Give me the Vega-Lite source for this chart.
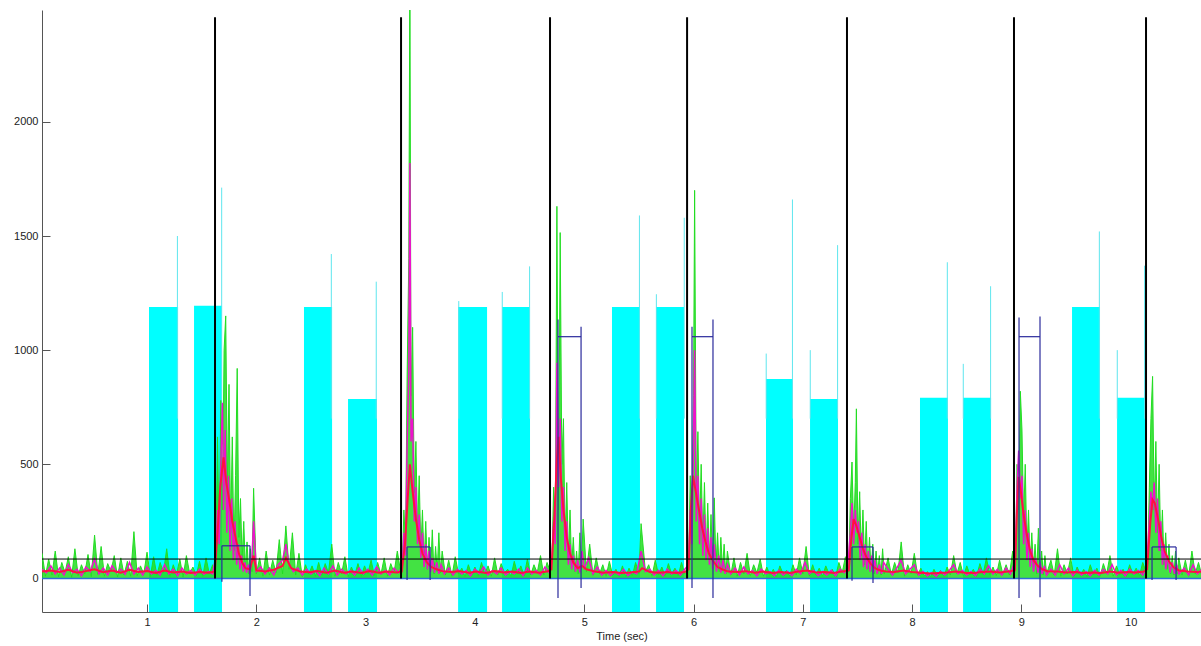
{
  "$schema": "https://vega.github.io/schema/vega-lite/v6.json",
  "autosize": "none",
  "width": 1159,
  "height": 602,
  "padding": {"left": 42, "top": 10, "right": 0, "bottom": 34},
  "background": "white",
  "config": {
    "view": {"stroke": null},
    "axis": {"grid": false, "domainColor": "#555", "tickColor": "#555", "labelColor": "#222", "labelFont": "Liberation Sans", "labelFontSize": 11, "titleFont": "Liberation Sans", "titleFontSize": 11, "titleFontWeight": "normal", "titleColor": "#222", "tickSize": -8, "labelPadding": 12, "format": "d"}
  },
  "datasets": {
    "blocks": [
      {"t0": 1.018, "t1": 1.284, "top": 1189},
      {"t0": 1.430, "t1": 1.686, "top": 1194},
      {"t0": 2.436, "t1": 2.693, "top": 1189},
      {"t0": 2.839, "t1": 3.104, "top": 786},
      {"t0": 3.846, "t1": 4.111, "top": 1189},
      {"t0": 4.248, "t1": 4.504, "top": 1189},
      {"t0": 5.254, "t1": 5.510, "top": 1189},
      {"t0": 5.657, "t1": 5.913, "top": 1189},
      {"t0": 6.663, "t1": 6.910, "top": 874},
      {"t0": 7.066, "t1": 7.322, "top": 786},
      {"t0": 8.072, "t1": 8.328, "top": 791},
      {"t0": 8.466, "t1": 8.722, "top": 791},
      {"t0": 9.463, "t1": 9.719, "top": 1189},
      {"t0": 9.875, "t1": 10.131, "top": 791}
    ],
    "spikes": [
      {"t": 1.278, "v": 1500}, {"t": 1.683, "v": 1712}, {"t": 2.686, "v": 1421}, {"t": 3.097, "v": 1300},
      {"t": 3.852, "v": 1215}, {"t": 4.250, "v": 1255}, {"t": 4.500, "v": 1367}, {"t": 5.505, "v": 1590},
      {"t": 5.660, "v": 1245}, {"t": 5.915, "v": 1580}, {"t": 6.665, "v": 985}, {"t": 6.905, "v": 1660},
      {"t": 7.068, "v": 1000}, {"t": 7.318, "v": 1460}, {"t": 8.322, "v": 1385}, {"t": 8.468, "v": 940},
      {"t": 8.718, "v": 1280}, {"t": 9.713, "v": 1520}, {"t": 9.877, "v": 1000}, {"t": 10.127, "v": 1370}
    ],
    "onsets": [
      {"t": 1.622, "top": 2458}, {"t": 3.324, "top": 2458}, {"t": 4.687, "top": 2458}, {"t": 5.941, "top": 2458},
      {"t": 7.404, "top": 2458}, {"t": 8.932, "top": 2458}, {"t": 10.140, "top": 2458}
    ],
    "brackets": [
      {"t": 1.685, "t2": 1.685, "v": -15, "v2": 143}, {"t": 1.685, "t2": 1.942, "v": 143, "v2": 143}, {"t": 1.942, "t2": 1.942, "v": -77, "v2": 143},
      {"t": 3.379, "t2": 3.379, "v": -7, "v2": 138}, {"t": 3.379, "t2": 3.590, "v": 138, "v2": 138}, {"t": 3.590, "t2": 3.590, "v": -7, "v2": 138},
      {"t": 4.760, "t2": 4.760, "v": -86, "v2": 1134}, {"t": 4.760, "t2": 4.971, "v": 1059, "v2": 1059}, {"t": 4.971, "t2": 4.971, "v": -42, "v2": 1103},
      {"t": 5.986, "t2": 5.986, "v": -42, "v2": 1103}, {"t": 5.986, "t2": 6.178, "v": 1059, "v2": 1059}, {"t": 6.178, "t2": 6.178, "v": -86, "v2": 1134},
      {"t": 7.450, "t2": 7.450, "v": -10, "v2": 138}, {"t": 7.450, "t2": 7.642, "v": 138, "v2": 138}, {"t": 7.642, "t2": 7.642, "v": -20, "v2": 138},
      {"t": 8.978, "t2": 8.978, "v": -86, "v2": 1143}, {"t": 8.978, "t2": 9.170, "v": 1059, "v2": 1059}, {"t": 9.170, "t2": 9.170, "v": -82, "v2": 1147},
      {"t": 10.195, "t2": 10.195, "v": -7, "v2": 138}, {"t": 10.195, "t2": 10.415, "v": 138, "v2": 138}, {"t": 10.415, "t2": 10.415, "v": -7, "v2": 138}
    ],
    "green": [
      {"t":0.04,"g":110},{"t":0.07,"g":10},{"t":0.10,"g":85},{"t":0.13,"g":15},{"t":0.16,"g":120},{"t":0.19,"g":8},{"t":0.22,"g":70},{"t":0.25,"g":25},{"t":0.28,"g":95},{"t":0.31,"g":5},
      {"t":0.34,"g":130},{"t":0.37,"g":12},{"t":0.40,"g":60},{"t":0.43,"g":20},{"t":0.46,"g":105},{"t":0.49,"g":8},{"t":0.52,"g":190},{"t":0.55,"g":18},{"t":0.58,"g":140},{"t":0.61,"g":10},
      {"t":0.64,"g":65},{"t":0.67,"g":30},{"t":0.70,"g":100},{"t":0.73,"g":6},{"t":0.76,"g":90},{"t":0.79,"g":15},{"t":0.82,"g":75},{"t":0.85,"g":10},{"t":0.88,"g":205},{"t":0.91,"g":12},
      {"t":0.94,"g":55},{"t":0.97,"g":20},{"t":1.00,"g":115},{"t":1.03,"g":8},{"t":1.06,"g":95},{"t":1.09,"g":14},{"t":1.12,"g":70},{"t":1.15,"g":25},{"t":1.18,"g":130},{"t":1.21,"g":10},
      {"t":1.24,"g":60},{"t":1.27,"g":18},{"t":1.30,"g":85},{"t":1.33,"g":6},{"t":1.36,"g":100},{"t":1.39,"g":22},{"t":1.42,"g":50},{"t":1.45,"g":12},{"t":1.48,"g":75},{"t":1.51,"g":9},
      {"t":1.54,"g":90},{"t":1.57,"g":20},{"t":1.60,"g":60},
      {"t":1.615,"g":15},{"t":1.63,"g":80},{"t":1.645,"g":620},{"t":1.66,"g":150},{"t":1.675,"g":780},{"t":1.69,"g":300},{"t":1.705,"g":1000},{"t":1.72,"g":1150},{"t":1.735,"g":400},{"t":1.75,"g":850},
      {"t":1.765,"g":200},{"t":1.78,"g":620},{"t":1.795,"g":120},{"t":1.81,"g":450},{"t":1.825,"g":920},{"t":1.84,"g":180},{"t":1.855,"g":350},{"t":1.87,"g":80},{"t":1.885,"g":250},{"t":1.90,"g":40},
      {"t":1.915,"g":160},{"t":1.93,"g":20},{"t":1.945,"g":130},{"t":1.96,"g":30},{"t":1.975,"g":395},
      {"t":2.00,"g":20},{"t":2.03,"g":90},{"t":2.06,"g":10},{"t":2.09,"g":120},{"t":2.12,"g":15},{"t":2.15,"g":80},{"t":2.18,"g":25},{"t":2.21,"g":170},{"t":2.24,"g":20},{"t":2.27,"g":230},
      {"t":2.30,"g":40},{"t":2.33,"g":200},{"t":2.36,"g":15},{"t":2.39,"g":110},{"t":2.42,"g":8},{"t":2.45,"g":60},{"t":2.48,"g":20},{"t":2.51,"g":55},{"t":2.54,"g":10},{"t":2.57,"g":70},
      {"t":2.60,"g":15},{"t":2.63,"g":65},{"t":2.66,"g":25},{"t":2.69,"g":150},{"t":2.72,"g":10},{"t":2.75,"g":70},{"t":2.78,"g":20},{"t":2.81,"g":95},{"t":2.84,"g":8},{"t":2.87,"g":50},
      {"t":2.90,"g":15},{"t":2.93,"g":65},{"t":2.96,"g":10},{"t":2.99,"g":55},{"t":3.02,"g":20},{"t":3.05,"g":80},{"t":3.08,"g":12},{"t":3.11,"g":70},{"t":3.14,"g":18},{"t":3.17,"g":90},
      {"t":3.20,"g":10},{"t":3.23,"g":65},{"t":3.26,"g":25},{"t":3.29,"g":120},{"t":3.32,"g":30},
      {"t":3.335,"g":40},{"t":3.35,"g":300},{"t":3.365,"g":150},{"t":3.38,"g":900},{"t":3.395,"g":1400},{"t":3.405,"g":2700},{"t":3.415,"g":800},{"t":3.43,"g":1100},{"t":3.445,"g":375},{"t":3.46,"g":600},
      {"t":3.475,"g":200},{"t":3.49,"g":450},{"t":3.505,"g":120},{"t":3.52,"g":300},{"t":3.535,"g":60},{"t":3.55,"g":250},{"t":3.565,"g":40},{"t":3.58,"g":180},{"t":3.595,"g":30},{"t":3.61,"g":213},
      {"t":3.625,"g":20},{"t":3.64,"g":140},{"t":3.655,"g":30},{"t":3.67,"g":200},{"t":3.685,"g":25},{"t":3.70,"g":120},
      {"t":3.73,"g":15},{"t":3.76,"g":80},{"t":3.79,"g":10},{"t":3.82,"g":95},{"t":3.85,"g":20},{"t":3.88,"g":45},{"t":3.91,"g":8},{"t":3.94,"g":60},{"t":3.97,"g":15},{"t":4.00,"g":50},
      {"t":4.03,"g":10},{"t":4.06,"g":70},{"t":4.09,"g":20},{"t":4.12,"g":55},{"t":4.15,"g":10},{"t":4.18,"g":90},{"t":4.21,"g":15},{"t":4.24,"g":65},{"t":4.27,"g":25},{"t":4.30,"g":40},
      {"t":4.33,"g":10},{"t":4.36,"g":75},{"t":4.39,"g":20},{"t":4.42,"g":55},{"t":4.45,"g":12},{"t":4.48,"g":85},{"t":4.51,"g":15},{"t":4.54,"g":60},{"t":4.57,"g":25},{"t":4.60,"g":100},
      {"t":4.63,"g":15},{"t":4.66,"g":70},{"t":4.69,"g":30},
      {"t":4.705,"g":80},{"t":4.72,"g":400},{"t":4.735,"g":200},{"t":4.75,"g":1630},{"t":4.765,"g":300},{"t":4.78,"g":1515},{"t":4.795,"g":500},{"t":4.81,"g":700},{"t":4.825,"g":150},{"t":4.84,"g":420},
      {"t":4.855,"g":80},{"t":4.87,"g":300},{"t":4.885,"g":50},{"t":4.90,"g":180},{"t":4.915,"g":30},{"t":4.93,"g":120},{"t":4.945,"g":20},{"t":4.96,"g":200},{"t":4.975,"g":40},{"t":4.99,"g":260},
      {"t":5.02,"g":30},{"t":5.05,"g":150},{"t":5.08,"g":15},{"t":5.11,"g":90},{"t":5.14,"g":20},{"t":5.17,"g":60},{"t":5.20,"g":10},{"t":5.23,"g":75},{"t":5.26,"g":15},{"t":5.29,"g":40},
      {"t":5.32,"g":10},{"t":5.35,"g":55},{"t":5.38,"g":8},{"t":5.41,"g":45},{"t":5.44,"g":12},{"t":5.47,"g":70},{"t":5.50,"g":20},{"t":5.52,"g":240},{"t":5.56,"g":30},{"t":5.59,"g":60},
      {"t":5.62,"g":10},{"t":5.65,"g":80},{"t":5.68,"g":15},{"t":5.71,"g":50},{"t":5.74,"g":10},{"t":5.77,"g":65},{"t":5.80,"g":20},{"t":5.83,"g":45},{"t":5.86,"g":12},{"t":5.89,"g":70},
      {"t":5.92,"g":20},
      {"t":5.955,"g":40},{"t":5.97,"g":450},{"t":5.985,"g":200},{"t":6.0,"g":800},{"t":6.01,"g":1700},{"t":6.025,"g":350},{"t":6.04,"g":643},{"t":6.055,"g":200},{"t":6.07,"g":500},{"t":6.085,"g":150},
      {"t":6.10,"g":420},{"t":6.115,"g":100},{"t":6.13,"g":330},{"t":6.145,"g":80},{"t":6.16,"g":280},{"t":6.175,"g":60},{"t":6.19,"g":353},{"t":6.205,"g":50},{"t":6.22,"g":200},{"t":6.235,"g":30},
      {"t":6.25,"g":180},{"t":6.265,"g":40},{"t":6.28,"g":150},{"t":6.295,"g":20},{"t":6.31,"g":120},
      {"t":6.34,"g":15},{"t":6.37,"g":90},{"t":6.40,"g":10},{"t":6.43,"g":70},{"t":6.46,"g":20},{"t":6.49,"g":110},{"t":6.52,"g":12},{"t":6.55,"g":60},{"t":6.58,"g":25},{"t":6.61,"g":85},
      {"t":6.64,"g":10},{"t":6.67,"g":50},{"t":6.70,"g":15},{"t":6.73,"g":40},{"t":6.76,"g":8},{"t":6.79,"g":55},{"t":6.82,"g":20},{"t":6.85,"g":35},{"t":6.88,"g":10},{"t":6.91,"g":60},
      {"t":6.94,"g":15},{"t":6.97,"g":90},{"t":7.00,"g":20},{"t":7.03,"g":140},{"t":7.06,"g":10},{"t":7.09,"g":60},{"t":7.12,"g":15},{"t":7.15,"g":45},{"t":7.18,"g":10},{"t":7.21,"g":55},
      {"t":7.24,"g":20},{"t":7.27,"g":40},{"t":7.30,"g":8},{"t":7.33,"g":70},{"t":7.36,"g":25},{"t":7.39,"g":95},
      {"t":7.42,"g":30},{"t":7.435,"g":350},{"t":7.45,"g":510},{"t":7.465,"g":200},{"t":7.48,"g":420},{"t":7.49,"g":743},{"t":7.505,"g":150},{"t":7.52,"g":380},{"t":7.535,"g":100},{"t":7.55,"g":300},
      {"t":7.565,"g":60},{"t":7.58,"g":250},{"t":7.595,"g":40},{"t":7.61,"g":180},{"t":7.625,"g":30},{"t":7.64,"g":150},{"t":7.655,"g":20},{"t":7.67,"g":120},{"t":7.685,"g":30},{"t":7.70,"g":100},
      {"t":7.715,"g":15},{"t":7.73,"g":130},{"t":7.745,"g":20},
      {"t":7.78,"g":90},{"t":7.81,"g":15},{"t":7.84,"g":70},{"t":7.87,"g":25},{"t":7.90,"g":160},{"t":7.93,"g":10},{"t":7.96,"g":60},{"t":7.99,"g":20},{"t":8.02,"g":110},{"t":8.05,"g":15},
      {"t":8.08,"g":45},{"t":8.11,"g":10},{"t":8.14,"g":30},{"t":8.17,"g":8},{"t":8.20,"g":40},{"t":8.23,"g":12},{"t":8.26,"g":35},{"t":8.29,"g":8},{"t":8.32,"g":50},{"t":8.35,"g":15},
      {"t":8.38,"g":100},{"t":8.41,"g":20},{"t":8.44,"g":70},{"t":8.47,"g":10},{"t":8.50,"g":55},{"t":8.53,"g":15},{"t":8.56,"g":40},{"t":8.59,"g":10},{"t":8.62,"g":65},{"t":8.65,"g":20},
      {"t":8.68,"g":90},{"t":8.71,"g":15},{"t":8.74,"g":50},{"t":8.77,"g":12},{"t":8.80,"g":80},{"t":8.83,"g":20},{"t":8.86,"g":60},{"t":8.89,"g":15},{"t":8.92,"g":120},
      {"t":8.945,"g":40},{"t":8.96,"g":500},{"t":8.975,"g":300},{"t":8.99,"g":820},{"t":9.005,"g":650},{"t":9.02,"g":250},{"t":9.035,"g":500},{"t":9.05,"g":120},{"t":9.065,"g":300},{"t":9.08,"g":60},
      {"t":9.095,"g":200},{"t":9.11,"g":40},{"t":9.125,"g":150},{"t":9.14,"g":20},{"t":9.155,"g":220},{"t":9.17,"g":30},{"t":9.185,"g":120},{"t":9.20,"g":15},{"t":9.215,"g":100},{"t":9.23,"g":20},
      {"t":9.27,"g":80},{"t":9.30,"g":15},{"t":9.33,"g":130},{"t":9.36,"g":10},{"t":9.39,"g":60},{"t":9.42,"g":20},{"t":9.45,"g":90},{"t":9.48,"g":10},{"t":9.51,"g":50},{"t":9.54,"g":15},
      {"t":9.57,"g":40},{"t":9.60,"g":8},{"t":9.63,"g":60},{"t":9.66,"g":15},{"t":9.69,"g":45},{"t":9.72,"g":10},{"t":9.75,"g":65},{"t":9.78,"g":20},{"t":9.81,"g":100},{"t":9.84,"g":10},
      {"t":9.87,"g":55},{"t":9.90,"g":15},{"t":9.93,"g":40},{"t":9.96,"g":10},{"t":9.99,"g":60},{"t":10.02,"g":20},{"t":10.05,"g":45},{"t":10.08,"g":12},{"t":10.11,"g":70},{"t":10.14,"g":30},
      {"t":10.155,"g":60},{"t":10.17,"g":400},{"t":10.185,"g":700},{"t":10.20,"g":885},{"t":10.215,"g":300},{"t":10.23,"g":600},{"t":10.245,"g":200},{"t":10.26,"g":500},{"t":10.275,"g":120},{"t":10.29,"g":300},
      {"t":10.305,"g":60},{"t":10.32,"g":200},{"t":10.335,"g":40},{"t":10.35,"g":150},{"t":10.365,"g":20},{"t":10.38,"g":100},{"t":10.395,"g":15},{"t":10.41,"g":120},{"t":10.425,"g":20},{"t":10.44,"g":90},
      {"t":10.47,"g":15},{"t":10.50,"g":80},{"t":10.53,"g":10},{"t":10.56,"g":120},{"t":10.59,"g":20},{"t":10.62,"g":70},{"t":10.65,"g":15}
    ],
    "magenta": [
      {"t":0.04,"m":40},{"t":0.08,"m":25},{"t":0.12,"m":55},{"t":0.16,"m":20},{"t":0.20,"m":45},{"t":0.24,"m":15},{"t":0.28,"m":60},{"t":0.32,"m":25},{"t":0.36,"m":40},{"t":0.40,"m":12},
      {"t":0.44,"m":50},{"t":0.48,"m":30},{"t":0.52,"m":85},{"t":0.56,"m":20},{"t":0.60,"m":45},{"t":0.64,"m":15},{"t":0.68,"m":55},{"t":0.72,"m":25},{"t":0.76,"m":40},{"t":0.80,"m":18},
      {"t":0.84,"m":70},{"t":0.88,"m":20},{"t":0.92,"m":45},{"t":0.96,"m":15},{"t":1.00,"m":50},{"t":1.04,"m":20},{"t":1.08,"m":35},{"t":1.12,"m":15},{"t":1.16,"m":60},{"t":1.20,"m":20},
      {"t":1.24,"m":40},{"t":1.28,"m":12},{"t":1.32,"m":45},{"t":1.36,"m":20},{"t":1.40,"m":35},{"t":1.44,"m":15},{"t":1.48,"m":40},{"t":1.52,"m":18},{"t":1.56,"m":30},{"t":1.60,"m":20},
      {"t":1.63,"m":100},{"t":1.645,"m":300},{"t":1.66,"m":150},{"t":1.675,"m":500},{"t":1.69,"m":770},{"t":1.70,"m":300},{"t":1.715,"m":650},{"t":1.73,"m":200},{"t":1.745,"m":450},{"t":1.76,"m":120},
      {"t":1.775,"m":350},{"t":1.79,"m":80},{"t":1.805,"m":250},{"t":1.82,"m":60},{"t":1.835,"m":150},{"t":1.85,"m":40},{"t":1.865,"m":100},{"t":1.88,"m":30},{"t":1.895,"m":70},{"t":1.91,"m":25},
      {"t":1.925,"m":60},{"t":1.94,"m":20},{"t":1.96,"m":90},{"t":1.975,"m":250},
      {"t":2.00,"m":30},{"t":2.04,"m":50},{"t":2.08,"m":20},{"t":2.12,"m":45},{"t":2.16,"m":15},{"t":2.20,"m":60},{"t":2.24,"m":80},{"t":2.27,"m":150},{"t":2.30,"m":60},{"t":2.34,"m":30},
      {"t":2.38,"m":45},{"t":2.42,"m":15},{"t":2.46,"m":40},{"t":2.50,"m":20},{"t":2.54,"m":35},{"t":2.58,"m":12},{"t":2.62,"m":45},{"t":2.66,"m":20},{"t":2.70,"m":55},{"t":2.74,"m":15},
      {"t":2.78,"m":40},{"t":2.82,"m":20},{"t":2.86,"m":35},{"t":2.90,"m":15},{"t":2.94,"m":45},{"t":2.98,"m":20},{"t":3.02,"m":40},{"t":3.06,"m":15},{"t":3.10,"m":50},{"t":3.14,"m":20},
      {"t":3.18,"m":35},{"t":3.22,"m":15},{"t":3.26,"m":45},{"t":3.30,"m":25},
      {"t":3.335,"m":50},{"t":3.35,"m":200},{"t":3.365,"m":100},{"t":3.38,"m":600},{"t":3.395,"m":900},{"t":3.405,"m":1820},{"t":3.415,"m":600},{"t":3.43,"m":700},{"t":3.445,"m":250},{"t":3.46,"m":400},
      {"t":3.475,"m":150},{"t":3.49,"m":280},{"t":3.505,"m":90},{"t":3.52,"m":200},{"t":3.535,"m":50},{"t":3.55,"m":150},{"t":3.565,"m":40},{"t":3.58,"m":120},{"t":3.595,"m":30},{"t":3.61,"m":90},
      {"t":3.63,"m":25},{"t":3.65,"m":70},{"t":3.67,"m":20},{"t":3.69,"m":60},
      {"t":3.72,"m":20},{"t":3.76,"m":45},{"t":3.80,"m":15},{"t":3.84,"m":40},{"t":3.88,"m":20},{"t":3.92,"m":35},{"t":3.96,"m":12},{"t":4.00,"m":40},{"t":4.04,"m":20},{"t":4.08,"m":50},
      {"t":4.12,"m":15},{"t":4.16,"m":35},{"t":4.20,"m":20},{"t":4.24,"m":45},{"t":4.28,"m":15},{"t":4.32,"m":30},{"t":4.36,"m":20},{"t":4.40,"m":40},{"t":4.44,"m":12},{"t":4.48,"m":45},
      {"t":4.52,"m":20},{"t":4.56,"m":35},{"t":4.60,"m":15},{"t":4.64,"m":50},{"t":4.68,"m":25},
      {"t":4.705,"m":80},{"t":4.72,"m":250},{"t":4.735,"m":150},{"t":4.75,"m":945},{"t":4.765,"m":400},{"t":4.78,"m":700},{"t":4.795,"m":250},{"t":4.81,"m":400},{"t":4.825,"m":120},{"t":4.84,"m":250},
      {"t":4.855,"m":60},{"t":4.87,"m":150},{"t":4.885,"m":40},{"t":4.90,"m":100},{"t":4.92,"m":30},{"t":4.94,"m":80},{"t":4.96,"m":25},{"t":4.98,"m":120},{"t":5.00,"m":40},
      {"t":5.04,"m":90},{"t":5.08,"m":20},{"t":5.12,"m":50},{"t":5.16,"m":15},{"t":5.20,"m":35},{"t":5.24,"m":12},{"t":5.28,"m":30},{"t":5.32,"m":15},{"t":5.36,"m":40},{"t":5.40,"m":12},
      {"t":5.44,"m":30},{"t":5.48,"m":20},{"t":5.52,"m":120},{"t":5.56,"m":30},{"t":5.60,"m":40},{"t":5.64,"m":15},{"t":5.68,"m":35},{"t":5.72,"m":12},{"t":5.76,"m":40},{"t":5.80,"m":20},
      {"t":5.84,"m":35},{"t":5.88,"m":15},{"t":5.92,"m":40},
      {"t":5.955,"m":60},{"t":5.97,"m":300},{"t":5.985,"m":150},{"t":6.0,"m":600},{"t":6.01,"m":1000},{"t":6.025,"m":250},{"t":6.04,"m":450},{"t":6.055,"m":150},{"t":6.07,"m":350},{"t":6.085,"m":100},
      {"t":6.10,"m":280},{"t":6.115,"m":80},{"t":6.13,"m":220},{"t":6.145,"m":60},{"t":6.16,"m":180},{"t":6.175,"m":40},{"t":6.19,"m":150},{"t":6.21,"m":30},{"t":6.23,"m":100},{"t":6.25,"m":25},
      {"t":6.27,"m":80},{"t":6.29,"m":20},{"t":6.31,"m":60},
      {"t":6.34,"m":20},{"t":6.38,"m":45},{"t":6.42,"m":15},{"t":6.46,"m":50},{"t":6.50,"m":20},{"t":6.54,"m":35},{"t":6.58,"m":12},{"t":6.62,"m":40},{"t":6.66,"m":20},{"t":6.70,"m":30},
      {"t":6.74,"m":12},{"t":6.78,"m":35},{"t":6.82,"m":15},{"t":6.86,"m":30},{"t":6.90,"m":12},{"t":6.94,"m":40},{"t":6.98,"m":20},{"t":7.02,"m":70},{"t":7.06,"m":20},{"t":7.10,"m":35},
      {"t":7.14,"m":12},{"t":7.18,"m":30},{"t":7.22,"m":15},{"t":7.26,"m":35},{"t":7.30,"m":12},{"t":7.34,"m":40},{"t":7.38,"m":25},{"t":7.41,"m":50},
      {"t":7.435,"m":200},{"t":7.45,"m":330},{"t":7.465,"m":150},{"t":7.48,"m":300},{"t":7.495,"m":200},{"t":7.51,"m":250},{"t":7.525,"m":80},{"t":7.54,"m":200},{"t":7.555,"m":50},{"t":7.57,"m":150},
      {"t":7.585,"m":40},{"t":7.60,"m":120},{"t":7.615,"m":30},{"t":7.63,"m":100},{"t":7.645,"m":25},{"t":7.66,"m":80},{"t":7.68,"m":20},{"t":7.70,"m":60},{"t":7.72,"m":20},{"t":7.74,"m":70},
      {"t":7.78,"m":40},{"t":7.82,"m":15},{"t":7.86,"m":45},{"t":7.90,"m":80},{"t":7.94,"m":20},{"t":7.98,"m":40},{"t":8.02,"m":60},{"t":8.06,"m":15},{"t":8.10,"m":30},{"t":8.14,"m":12},
      {"t":8.18,"m":25},{"t":8.22,"m":10},{"t":8.26,"m":30},{"t":8.30,"m":15},{"t":8.34,"m":35},{"t":8.38,"m":60},{"t":8.42,"m":20},{"t":8.46,"m":35},{"t":8.50,"m":15},{"t":8.54,"m":30},
      {"t":8.58,"m":12},{"t":8.62,"m":40},{"t":8.66,"m":20},{"t":8.70,"m":55},{"t":8.74,"m":20},{"t":8.78,"m":40},{"t":8.82,"m":15},{"t":8.86,"m":45},{"t":8.90,"m":20},{"t":8.93,"m":60},
      {"t":8.945,"m":80},{"t":8.96,"m":400},{"t":8.975,"m":560},{"t":8.99,"m":350},{"t":9.005,"m":450},{"t":9.02,"m":150},{"t":9.035,"m":300},{"t":9.05,"m":80},{"t":9.065,"m":200},{"t":9.08,"m":50},
      {"t":9.095,"m":130},{"t":9.11,"m":30},{"t":9.13,"m":90},{"t":9.15,"m":25},{"t":9.17,"m":70},{"t":9.19,"m":20},{"t":9.21,"m":55},{"t":9.23,"m":15},
      {"t":9.27,"m":40},{"t":9.31,"m":15},{"t":9.35,"m":60},{"t":9.39,"m":20},{"t":9.43,"m":45},{"t":9.47,"m":12},{"t":9.51,"m":35},{"t":9.55,"m":15},{"t":9.59,"m":30},{"t":9.63,"m":12},
      {"t":9.67,"m":35},{"t":9.71,"m":15},{"t":9.75,"m":40},{"t":9.79,"m":20},{"t":9.83,"m":60},{"t":9.87,"m":15},{"t":9.91,"m":35},{"t":9.95,"m":12},{"t":9.99,"m":40},{"t":10.03,"m":20},
      {"t":10.07,"m":35},{"t":10.11,"m":15},{"t":10.145,"m":50},
      {"t":10.17,"m":250},{"t":10.185,"m":380},{"t":10.20,"m":300},{"t":10.215,"m":420},{"t":10.23,"m":200},{"t":10.245,"m":350},{"t":10.26,"m":120},{"t":10.275,"m":250},{"t":10.29,"m":60},{"t":10.305,"m":150},
      {"t":10.32,"m":40},{"t":10.34,"m":100},{"t":10.36,"m":25},{"t":10.38,"m":70},{"t":10.40,"m":20},{"t":10.42,"m":60},{"t":10.44,"m":20},
      {"t":10.49,"m":45},{"t":10.53,"m":15},{"t":10.57,"m":60},{"t":10.61,"m":20},{"t":10.65,"m":40}
    ],
    "red": [
      {"t":0.04,"r":30},{"t":0.12,"r":35},{"t":0.20,"r":28},{"t":0.28,"r":38},{"t":0.36,"r":25},{"t":0.44,"r":32},{"t":0.52,"r":40},{"t":0.60,"r":27},{"t":0.68,"r":35},{"t":0.76,"r":25},
      {"t":0.84,"r":38},{"t":0.92,"r":28},{"t":1.00,"r":33},{"t":1.08,"r":24},{"t":1.16,"r":35},{"t":1.24,"r":26},{"t":1.32,"r":30},{"t":1.40,"r":24},{"t":1.48,"r":28},{"t":1.56,"r":25},{"t":1.62,"r":30},
      {"t":1.645,"r":200},{"t":1.67,"r":400},{"t":1.70,"r":530},{"t":1.725,"r":420},{"t":1.75,"r":350},{"t":1.78,"r":250},{"t":1.81,"r":180},{"t":1.84,"r":110},{"t":1.87,"r":70},{"t":1.90,"r":45},
      {"t":1.94,"r":40},{"t":1.975,"r":100},{"t":2.00,"r":35},
      {"t":2.08,"r":30},{"t":2.16,"r":38},{"t":2.24,"r":55},{"t":2.27,"r":90},{"t":2.32,"r":45},{"t":2.40,"r":30},{"t":2.48,"r":27},{"t":2.56,"r":32},{"t":2.64,"r":25},{"t":2.72,"r":35},
      {"t":2.80,"r":25},{"t":2.88,"r":30},{"t":2.96,"r":24},{"t":3.04,"r":32},{"t":3.12,"r":25},{"t":3.20,"r":30},{"t":3.28,"r":26},{"t":3.33,"r":30},
      {"t":3.36,"r":150},{"t":3.385,"r":350},{"t":3.405,"r":500},{"t":3.43,"r":380},{"t":3.46,"r":260},{"t":3.49,"r":170},{"t":3.52,"r":110},{"t":3.56,"r":70},{"t":3.60,"r":50},{"t":3.65,"r":40},{"t":3.70,"r":32},
      {"t":3.78,"r":28},{"t":3.86,"r":32},{"t":3.94,"r":25},{"t":4.02,"r":30},{"t":4.10,"r":24},{"t":4.18,"r":32},{"t":4.26,"r":26},{"t":4.34,"r":30},{"t":4.42,"r":24},{"t":4.50,"r":30},
      {"t":4.58,"r":25},{"t":4.66,"r":30},{"t":4.70,"r":40},
      {"t":4.725,"r":250},{"t":4.75,"r":520},{"t":4.765,"r":620},{"t":4.785,"r":450},{"t":4.81,"r":300},{"t":4.84,"r":180},{"t":4.87,"r":110},{"t":4.90,"r":70},{"t":4.94,"r":45},{"t":4.98,"r":55},{"t":5.02,"r":40},
      {"t":5.10,"r":30},{"t":5.18,"r":25},{"t":5.26,"r":28},{"t":5.34,"r":24},{"t":5.42,"r":26},{"t":5.50,"r":30},{"t":5.53,"r":45},{"t":5.60,"r":28},{"t":5.68,"r":25},{"t":5.76,"r":28},
      {"t":5.84,"r":24},{"t":5.92,"r":28},{"t":5.955,"r":40},
      {"t":5.975,"r":300},{"t":5.995,"r":450},{"t":6.02,"r":380},{"t":6.05,"r":300},{"t":6.08,"r":220},{"t":6.11,"r":160},{"t":6.14,"r":110},{"t":6.18,"r":75},{"t":6.22,"r":50},{"t":6.27,"r":38},{"t":6.32,"r":30},
      {"t":6.40,"r":28},{"t":6.48,"r":32},{"t":6.56,"r":25},{"t":6.64,"r":30},{"t":6.72,"r":24},{"t":6.80,"r":28},{"t":6.88,"r":24},{"t":6.96,"r":30},{"t":7.04,"r":35},{"t":7.12,"r":26},
      {"t":7.20,"r":28},{"t":7.28,"r":24},{"t":7.36,"r":30},{"t":7.42,"r":35},
      {"t":7.445,"r":180},{"t":7.465,"r":260},{"t":7.49,"r":230},{"t":7.52,"r":180},{"t":7.55,"r":130},{"t":7.58,"r":95},{"t":7.62,"r":65},{"t":7.66,"r":45},{"t":7.71,"r":35},{"t":7.76,"r":30},
      {"t":7.84,"r":28},{"t":7.92,"r":35},{"t":8.00,"r":28},{"t":8.08,"r":25},{"t":8.16,"r":22},{"t":8.24,"r":24},{"t":8.32,"r":26},{"t":8.40,"r":30},{"t":8.48,"r":25},{"t":8.56,"r":24},
      {"t":8.64,"r":28},{"t":8.72,"r":30},{"t":8.80,"r":26},{"t":8.88,"r":30},{"t":8.94,"r":35},
      {"t":8.96,"r":300},{"t":8.975,"r":445},{"t":8.995,"r":380},{"t":9.02,"r":280},{"t":9.05,"r":190},{"t":9.08,"r":120},{"t":9.11,"r":80},{"t":9.15,"r":55},{"t":9.19,"r":40},{"t":9.24,"r":32},
      {"t":9.33,"r":30},{"t":9.41,"r":26},{"t":9.49,"r":28},{"t":9.57,"r":24},{"t":9.65,"r":26},{"t":9.73,"r":24},{"t":9.81,"r":30},{"t":9.89,"r":25},{"t":9.97,"r":28},{"t":10.05,"r":26},
      {"t":10.12,"r":30},{"t":10.15,"r":40},
      {"t":10.18,"r":250},{"t":10.20,"r":345},{"t":10.22,"r":330},{"t":10.25,"r":260},{"t":10.28,"r":180},{"t":10.31,"r":120},{"t":10.35,"r":75},{"t":10.39,"r":50},{"t":10.44,"r":35},{"t":10.52,"r":30},
      {"t":10.60,"r":28},{"t":10.65,"r":30}
    ]
  },
  "layer": [
    {
      "data": {"name": "blocks"},
      "mark": {"type": "rect", "color": "#00ffff"},
      "encoding": {
        "x": {"field": "t0", "type": "quantitative", "scale": {"domain": [0.039, 10.643], "nice": false, "zero": false}, "title": "Time (sec)", "axis": {"values": [1,2,3,4,5,6,7,8,9,10], "titlePadding": 3}},
        "x2": {"field": "t1"},
        "y": {"field": "top", "type": "quantitative", "scale": {"domain": [-147, 2490], "nice": false, "zero": false}, "title": null, "axis": {"values": [0, 500, 1000, 1500, 2000]}},
        "y2": {"datum": -147}
      }
    },
    {
      "data": {"name": "spikes"},
      "mark": {"type": "rule", "color": "#5ee6ee", "strokeWidth": 1},
      "encoding": {
        "x": {"field": "t", "type": "quantitative", "title": "Time (sec)"},
        "y": {"field": "v", "type": "quantitative", "title": null},
        "y2": {"datum": 700}
      }
    },
    {
      "data": {"name": "green"},
      "mark": {"type": "area", "color": "#22dd22", "opacity": 0.85, "clip": true},
      "encoding": {
        "x": {"field": "t", "type": "quantitative", "title": "Time (sec)"},
        "y": {"field": "g", "type": "quantitative", "title": null},
        "y2": {"datum": 0}
      }
    },
    {
      "data": {"name": "green"},
      "mark": {"type": "line", "color": "#22dd22", "strokeWidth": 1, "clip": true},
      "encoding": {
        "x": {"field": "t", "type": "quantitative", "title": "Time (sec)"},
        "y": {"field": "g", "type": "quantitative", "title": null}
      }
    },
    {
      "data": {"name": "magenta"},
      "mark": {"type": "line", "color": "#ee11cc", "strokeWidth": 1.5, "clip": true},
      "encoding": {
        "x": {"field": "t", "type": "quantitative", "title": "Time (sec)"},
        "y": {"field": "m", "type": "quantitative", "title": null}
      }
    },
    {
      "data": {"name": "red"},
      "mark": {"type": "line", "color": "#ff1040", "strokeWidth": 2, "clip": true},
      "encoding": {
        "x": {"field": "t", "type": "quantitative", "title": "Time (sec)"},
        "y": {"field": "r", "type": "quantitative", "title": null}
      }
    },
    {
      "data": {"values": [{"level": 85}]},
      "mark": {"type": "rule", "color": "#000000", "strokeWidth": 1},
      "encoding": {"y": {"field": "level", "type": "quantitative", "title": null}}
    },
    {
      "data": {"values": [{"level": 0}]},
      "mark": {"type": "rule", "color": "#2f6fd6", "strokeWidth": 1.5},
      "encoding": {"y": {"field": "level", "type": "quantitative", "title": null}}
    },
    {
      "data": {"name": "onsets"},
      "mark": {"type": "rule", "color": "#000000", "strokeWidth": 2},
      "encoding": {
        "x": {"field": "t", "type": "quantitative", "title": "Time (sec)"},
        "y": {"field": "top", "type": "quantitative", "title": null},
        "y2": {"datum": 0}
      }
    },
    {
      "data": {"name": "brackets"},
      "mark": {"type": "rule", "color": "#2a2a9c", "strokeWidth": 1.2},
      "encoding": {
        "x": {"field": "t", "type": "quantitative", "title": "Time (sec)"},
        "x2": {"field": "t2"},
        "y": {"field": "v", "type": "quantitative", "title": null},
        "y2": {"field": "v2"}
      }
    }
  ]
}
